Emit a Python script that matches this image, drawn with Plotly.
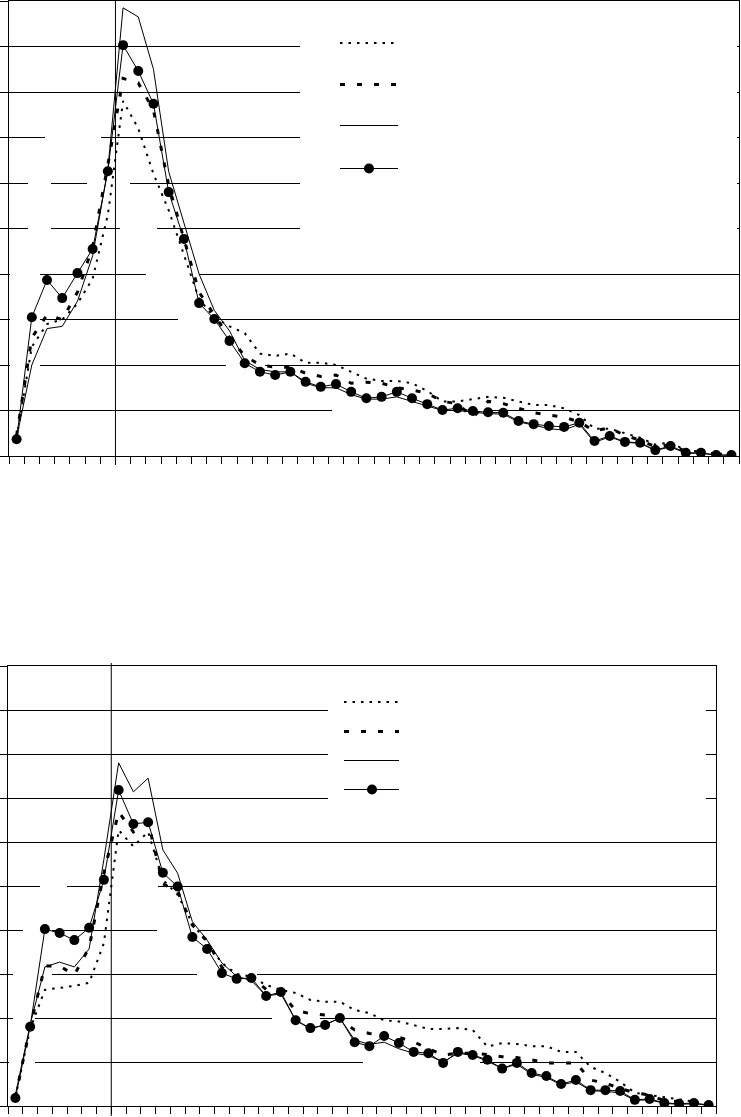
import plotly.graph_objects as go

W, H = 741, 1117

categories = list(range(1, 49))

# ---------------- top panel values ----------------
top_dotted = [0.40, 2.40, 2.90, 3.00, 3.35, 3.90, 5.30, 7.80, 7.20, 6.20, 5.40, 4.40,
              3.45, 3.05, 2.85, 2.70, 2.25, 2.20, 2.25, 2.05, 2.05, 2.00, 1.85, 1.70,
              1.65, 1.65, 1.60, 1.43, 1.20, 1.20, 1.25, 1.30, 1.28, 1.20, 1.12, 1.12,
              1.05, 0.90, 0.60, 0.60, 0.50, 0.40, 0.25, 0.30, 0.12, 0.10, 0.05, 0.05]
top_dashed = [0.45, 2.60, 3.10, 3.00, 3.60, 4.60, 6.40, 8.30, 8.20, 7.60, 5.95, 4.80,
              3.60, 3.10, 2.60, 2.20, 2.00, 1.95, 1.95, 1.82, 1.75, 1.78, 1.60, 1.62,
              1.60, 1.50, 1.45, 1.38, 1.20, 1.15, 0.85, 1.20, 1.15, 1.05, 0.95, 0.90,
              0.85, 0.75, 0.55, 0.62, 0.45, 0.35, 0.20, 0.25, 0.10, 0.08, 0.03, 0.03]
top_solid = [0.40, 2.00, 2.80, 2.85, 3.40, 4.40, 6.30, 9.85, 9.65, 8.50, 6.25, 5.10,
             4.00, 3.20, 2.75, 2.10, 1.90, 1.85, 1.85, 1.60, 1.50, 1.50, 1.35, 1.25,
             1.25, 1.30, 1.20, 1.10, 1.00, 1.00, 0.97, 0.93, 0.92, 0.75, 0.68, 0.60,
             0.57, 0.70, 0.30, 0.42, 0.30, 0.28, 0.12, 0.20, 0.06, 0.06, 0.02, 0.02]
top_marker = [0.37, 3.05, 3.87, 3.47, 4.02, 4.55, 6.26, 9.03, 8.46, 7.74, 5.80, 4.77,
              3.36, 3.01, 2.53, 2.04, 1.85, 1.78, 1.85, 1.63, 1.52, 1.58, 1.41, 1.27,
              1.30, 1.41, 1.27, 1.14, 1.01, 1.05, 0.99, 0.96, 0.95, 0.77, 0.70, 0.66,
              0.64, 0.73, 0.33, 0.44, 0.31, 0.29, 0.13, 0.22, 0.07, 0.07, 0.02, 0.02]

# ---------------- bottom panel values ----------------
bot_dotted = [0.20, 1.75, 2.64, 2.68, 2.73, 2.80, 3.70, 6.27, 5.90, 6.23, 5.14, 4.80,
              4.15, 3.70, 3.25, 3.00, 2.94, 2.75, 2.64, 2.57, 2.41, 2.37, 2.37, 2.18,
              2.11, 1.95, 1.92, 1.84, 1.75, 1.75, 1.77, 1.73, 1.35, 1.43, 1.41, 1.36,
              1.36, 1.23, 1.23, 0.89, 0.75, 0.55, 0.30, 0.25, 0.20, 0.15, 0.10, 0.05]
bot_dashed = [0.20, 1.80, 3.18, 3.18, 2.98, 3.60, 5.30, 6.68, 6.23, 6.45, 5.05, 4.87,
              4.11, 3.75, 3.15, 2.90, 2.95, 2.65, 2.58, 2.17, 2.10, 2.07, 1.95, 1.73,
              1.65, 1.60, 1.56, 1.46, 1.30, 1.16, 1.20, 1.20, 1.17, 1.12, 1.10, 1.05,
              0.98, 0.98, 0.98, 0.59, 0.52, 0.40, 0.30, 0.25, 0.12, 0.10, 0.08, 0.03]
bot_solid = [0.25, 1.85, 3.16, 3.27, 3.16, 3.57, 5.60, 7.80, 7.14, 7.45, 5.82, 5.29,
             4.19, 3.77, 3.25, 2.95, 2.85, 2.50, 2.55, 1.95, 1.75, 1.85, 2.00, 1.50,
             1.40, 1.45, 1.30, 1.20, 1.15, 1.00, 1.20, 1.15, 1.02, 0.85, 0.95, 0.72,
             0.65, 0.48, 0.55, 0.35, 0.33, 0.30, 0.13, 0.14, 0.06, 0.04, 0.05, 0.02]
bot_marker = [0.18, 1.80, 4.02, 3.93, 3.77, 4.05, 5.14, 7.18, 6.41, 6.45, 5.30, 4.99,
              3.84, 3.57, 3.02, 2.89, 2.91, 2.50, 2.59, 1.95, 1.77, 1.84, 2.00, 1.45,
              1.36, 1.59, 1.43, 1.23, 1.20, 0.98, 1.23, 1.16, 1.05, 0.85, 0.98, 0.75,
              0.68, 0.50, 0.59, 0.36, 0.36, 0.34, 0.14, 0.16, 0.07, 0.05, 0.07, 0.02]

split_category = 7.5  # vertical divider between categories 7 and 8

DOT = "2.5px,6px"
DASH = "5px,12px"

# pixel boxes of the two plot areas: (left, right, top, bottom)
TOP_BOX = (9, 739, 1, 456)
BOT_BOX = (8, 716, 666, 1106)
X_RANGE = [0.5, 48.5]
Y_RANGE = [0, 10]


def px_x(v):
    return v / W


def px_y(v):
    return 1 - v / H


fig = go.Figure()


def add_panel(xa, ya, dotted, dashed, solid, marker):
    fig.add_trace(go.Scatter(x=categories, y=dotted, mode="lines", xaxis=xa, yaxis=ya,
                             line=dict(color="black", width=2, dash=DOT), showlegend=False))
    fig.add_trace(go.Scatter(x=categories, y=dashed, mode="lines", xaxis=xa, yaxis=ya,
                             line=dict(color="black", width=3, dash=DASH), showlegend=False))
    fig.add_trace(go.Scatter(x=categories, y=solid, mode="lines", xaxis=xa, yaxis=ya,
                             line=dict(color="black", width=1), showlegend=False))
    fig.add_trace(go.Scatter(x=categories, y=marker, mode="lines+markers", xaxis=xa, yaxis=ya,
                             line=dict(color="black", width=1),
                             marker=dict(color="black", size=10, symbol="circle"),
                             showlegend=False))


add_panel("x", "y", top_dotted, top_dashed, top_solid, top_marker)
add_panel("x2", "y2", bot_dotted, bot_dashed, bot_solid, bot_marker)

xaxis_common = dict(range=X_RANGE, tick0=0.5, dtick=1, ticks="outside", ticklen=7,
                    tickcolor="black", tickwidth=1, showticklabels=False, showgrid=False,
                    zeroline=False, showline=True, linecolor="black", linewidth=1, mirror=True)
yaxis_common = dict(range=Y_RANGE, dtick=1, ticks="outside", ticklen=8, tickcolor="black",
                    tickwidth=1, showticklabels=False, showgrid=True, gridcolor="black",
                    gridwidth=1, zeroline=False, showline=True, linecolor="black",
                    linewidth=1, mirror=True)

fig.update_layout(
    width=W, height=H,
    margin=dict(l=0, r=0, t=0, b=0),
    paper_bgcolor="white", plot_bgcolor="white",
    xaxis=dict(domain=[px_x(TOP_BOX[0]), px_x(TOP_BOX[1])], anchor="y", **xaxis_common),
    yaxis=dict(domain=[px_y(TOP_BOX[3]), px_y(TOP_BOX[2])], anchor="x", **yaxis_common),
    xaxis2=dict(domain=[px_x(BOT_BOX[0]), px_x(BOT_BOX[1])], anchor="y2", **xaxis_common),
    yaxis2=dict(domain=[px_y(BOT_BOX[3]), px_y(BOT_BOX[2])], anchor="x2", **yaxis_common),
    showlegend=False,
)

shapes = []

# vertical divider lines
shapes.append(dict(type="line", xref="x", yref="paper", x0=split_category, x1=split_category,
                   y0=px_y(465), y1=px_y(0), line=dict(color="black", width=1)))
shapes.append(dict(type="line", xref="x2", yref="paper", x0=split_category, x1=split_category,
                   y0=px_y(1116), y1=px_y(663), line=dict(color="black", width=1)))


def white_box(box, xref, yref, x0, x1, y0, y1):
    """White blank area (in pixels) drawn between gridlines and data."""
    l, r, t, b = box
    xs = X_RANGE[1] - X_RANGE[0]
    ys = Y_RANGE[1] - Y_RANGE[0]
    shapes.append(dict(type="rect", xref=xref, yref=yref, layer="between",
                       x0=X_RANGE[0] + (x0 - l) / (r - l) * xs,
                       x1=X_RANGE[0] + (x1 - l) / (r - l) * xs,
                       y0=Y_RANGE[0] + (b - y1) / (b - t) * ys,
                       y1=Y_RANGE[0] + (b - y0) / (b - t) * ys,
                       fillcolor="white", line=dict(width=0)))


# legend backgrounds
white_box(TOP_BOX, "x", "y", 300, 737, 15, 250)
white_box(BOT_BOX, "x2", "y2", 328, 706, 685, 815)

# gridline gaps (pixel x0, x1, y)
gaps_top = [(45, 101, 137), (28, 51, 183), (87, 130, 183), (28, 51, 228), (120, 157, 228),
            (10, 40, 274), (146, 199, 274), (10, 40, 319), (178, 215, 319), (10, 40, 365),
            (226, 265, 365), (332, 490, 410)]
gaps_bot = [(40, 67, 886), (100, 158, 886), (23, 52, 930), (157, 200, 930), (13, 52, 974),
            (197, 257, 974), (13, 35, 1018), (272, 320, 1018), (9, 35, 1062), (363, 480, 1062)]
for gx0, gx1, gy in gaps_top:
    white_box(TOP_BOX, "x", "y", gx0, gx1, gy - 3, gy + 3)
for gx0, gx1, gy in gaps_bot:
    white_box(BOT_BOX, "x2", "y2", gx0, gx1, gy - 3, gy + 3)


# legend samples (no label text in the original)
def legend_samples(x0, x1, ys, mx):
    styles = [dict(width=2, dash=DOT), dict(width=3, dash=DASH), dict(width=1), dict(width=1)]
    offs = [0, 0.5, 0.5, 0.5]
    for y, st, o in zip(ys, styles, offs):
        shapes.append(dict(type="line", xref="paper", yref="paper", x0=px_x(x0), x1=px_x(x1),
                           y0=px_y(y + o), y1=px_y(y + o), line=dict(color="black", **st)))
    r = 5
    cy = ys[3] + 0.5
    shapes.append(dict(type="circle", xref="paper", yref="paper",
                       x0=px_x(mx - r), x1=px_x(mx + r), y0=px_y(cy + r), y1=px_y(cy - r),
                       fillcolor="black", line=dict(color="black", width=0)))


legend_samples(340, 398, [43, 84, 125, 168], 369)
legend_samples(344, 399, [702, 731, 760, 789], 372)

fig.update_layout(shapes=shapes)

fig.write_html("out.html", config={"displayModeBar": False},
               post_script="document.body.style.margin='0';")
